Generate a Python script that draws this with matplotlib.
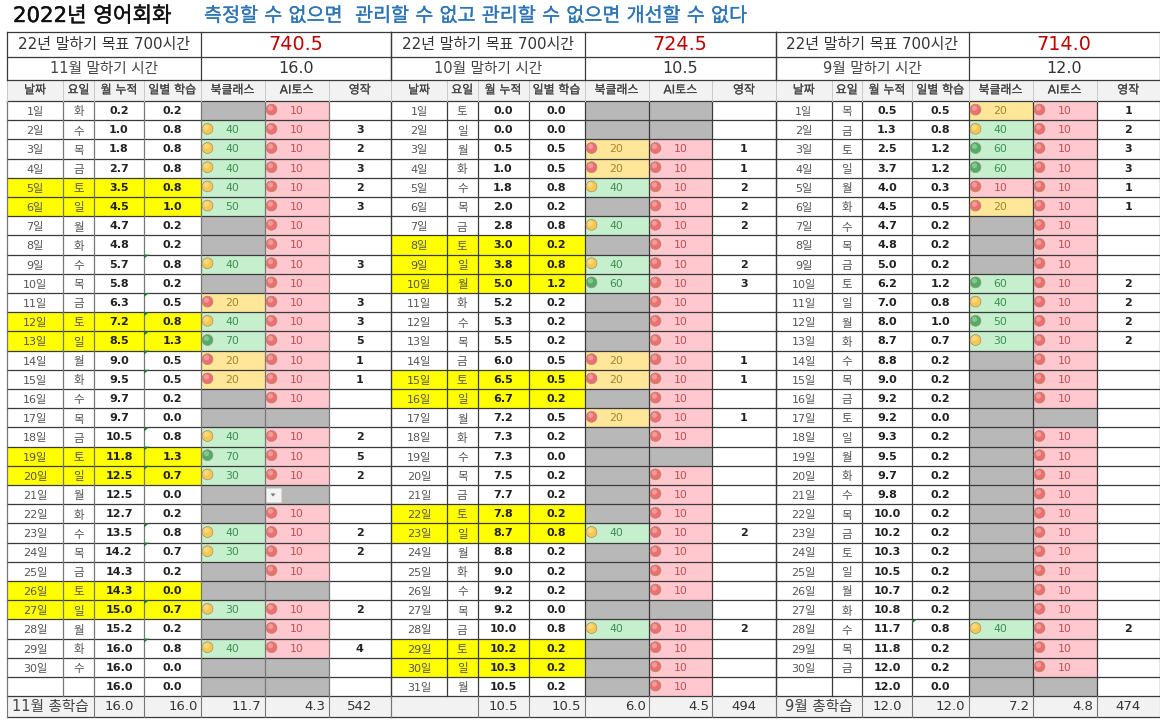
import matplotlib
matplotlib.use("Agg")
import matplotlib.pyplot as plt
import matplotlib.patheffects as pe
from matplotlib.patches import Rectangle, Circle, Polygon

# digits and spaces come from DejaVu, hangul falls through to Noto
plt.rcParams['font.family'] = ['DejaVu Sans', 'Noto Sans CJK KR']

N = None

title = "2022년 영어회화"
motto = "측정할 수 없으면  관리할 수 없고 관리할 수 없으면 개선할 수 없다"
headers = ["날짜", "요일", "월 누적", "일별 학습", "북클래스", "AI토스", "영작"]
goal_label = "22년 말하기 목표 700시간"

# 11월
nov_total = "740.5"
nov_hours = "16.0"
nov_label = "11월 말하기 시간"
nov_sum_label = "11월 총학습"
nov_days = [str(d) + "일" for d in range(1, 31)] + [""]
nov_week = list("화수목금토일월화수목금토일월화수목금토일월화수목금토일월화수") + [""]
nov_cum = [0.2, 1.0, 1.8, 2.7, 3.5, 4.5, 4.7, 4.8, 5.7, 5.8, 6.3, 7.2, 8.5, 9.0, 9.5, 9.7,
           9.7, 10.5, 11.8, 12.5, 12.5, 12.7, 13.5, 14.2, 14.3, 14.3, 15.0, 15.2, 16.0, 16.0, 16.0]
nov_daily = [0.2, 0.8, 0.8, 0.8, 0.8, 1.0, 0.2, 0.2, 0.8, 0.2, 0.5, 0.8, 1.3, 0.5, 0.5, 0.2,
             0.0, 0.8, 1.3, 0.7, 0.0, 0.2, 0.8, 0.7, 0.2, 0.0, 0.7, 0.2, 0.8, 0.0, 0.0]
nov_book = [N, 40, 40, 40, 40, 50, N, N, 40, N, 20, 40, 70, 20, 20, N,
            N, 40, 70, 30, N, N, 40, 30, N, N, 30, N, 40, N, N]
nov_ai = [10, 10, 10, 10, 10, 10, 10, 10, 10, 10, 10, 10, 10, 10, 10, 10,
          N, 10, 10, 10, N, 10, 10, 10, 10, N, 10, 10, 10, N, N]
nov_eng = [N, 3, 2, 3, 2, 3, N, N, 3, N, 3, 3, 5, 1, 1, N,
           N, 2, 5, 2, N, N, 2, 2, N, N, 2, N, 4, N, N]
nov_yellow = [5, 6, 12, 13, 19, 20, 26, 27]
nov_flags = [9, 11, 12, 13, 14, 15, 18, 19, 20, 23, 24, 27, 29]
nov_sums = ["16.0", "16.0", "11.7", "4.3", "542"]

# 10월
oct_total = "724.5"
oct_hours = "10.5"
oct_label = "10월 말하기 시간"
oct_sum_label = ""
oct_days = [str(d) + "일" for d in range(1, 32)]
oct_week = list("토일월화수목금토일월화수목금토일월화수목금토일월화수목금토일월")
oct_cum = [0.0, 0.0, 0.5, 1.0, 1.8, 2.0, 2.8, 3.0, 3.8, 5.0, 5.2, 5.3, 5.5, 6.0, 6.5, 6.7,
           7.2, 7.3, 7.3, 7.5, 7.7, 7.8, 8.7, 8.8, 9.0, 9.2, 9.2, 10.0, 10.2, 10.3, 10.5]
oct_daily = [0.0, 0.0, 0.5, 0.5, 0.8, 0.2, 0.8, 0.2, 0.8, 1.2, 0.2, 0.2, 0.2, 0.5, 0.5, 0.2,
             0.5, 0.2, 0.0, 0.2, 0.2, 0.2, 0.8, 0.2, 0.2, 0.2, 0.0, 0.8, 0.2, 0.2, 0.2]
oct_book = [N, N, 20, 20, 40, N, 40, N, 40, 60, N, N, N, 20, 20, N,
            20, N, N, N, N, N, 40, N, N, N, N, 40, N, N, N]
oct_ai = [N, N, 10, 10, 10, 10, 10, 10, 10, 10, 10, 10, 10, 10, 10, 10,
          10, 10, N, 10, 10, 10, 10, 10, 10, 10, N, 10, 10, 10, 10]
oct_eng = [N, N, 1, 1, 2, 2, 2, N, 2, 3, N, N, N, 1, 1, N,
           1, N, N, N, N, N, 2, N, N, N, N, 2, N, N, N]
oct_yellow = [8, 9, 10, 15, 16, 22, 23, 29, 30]
oct_flags = []
oct_sums = ["10.5", "10.5", "6.0", "4.5", "494"]

# 9월
sep_total = "714.0"
sep_hours = "12.0"
sep_label = "9월 말하기 시간"
sep_sum_label = "9월 총학습"
sep_days = [str(d) + "일" for d in range(1, 31)] + [""]
sep_week = list("목금토일월화수목금토일월화수목금토일월화수목금토일월화수목금") + [""]
sep_cum = [0.5, 1.3, 2.5, 3.7, 4.0, 4.5, 4.7, 4.8, 5.0, 6.2, 7.0, 8.0, 8.7, 8.8, 9.0, 9.2,
           9.2, 9.3, 9.5, 9.7, 9.8, 10.0, 10.2, 10.3, 10.5, 10.7, 10.8, 11.7, 11.8, 12.0, 12.0]
sep_daily = [0.5, 0.8, 1.2, 1.2, 0.3, 0.5, 0.2, 0.2, 0.2, 1.2, 0.8, 1.0, 0.7, 0.2, 0.2, 0.2,
             0.0, 0.2, 0.2, 0.2, 0.2, 0.2, 0.2, 0.2, 0.2, 0.2, 0.2, 0.8, 0.2, 0.2, 0.0]
sep_book = [20, 40, 60, 60, 10, 20, N, N, N, 60, 40, 50, 30, N, N, N,
            N, N, N, N, N, N, N, N, N, N, N, 40, N, N, N]
sep_ai = [10, 10, 10, 10, 10, 10, 10, 10, 10, 10, 10, 10, 10, 10, 10, 10,
          N, 10, 10, 10, 10, 10, 10, 10, 10, 10, 10, 10, 10, 10, N]
sep_eng = [1, 2, 3, 3, 1, 1, N, N, N, 2, 2, 2, 2, N, N, N,
           N, N, N, N, N, N, N, N, N, N, N, 2, N, N, N]
sep_yellow = []
sep_flags = [28]
sep_sums = ["12.0", "12.0", "7.2", "4.8", "474"]

# column edges of each month block, in pixels
nov_edges = [7, 63, 94, 144, 200.5, 264.5, 328.5, 391]
oct_edges = [391, 447, 477.5, 528.5, 584.5, 648.5, 712, 776]
sep_edges = [776, 831.5, 862, 912, 968.5, 1032.5, 1096.5, 1160]

row_top = 101
row_h = 19.2

GREY = "#b8b8b8"
YELLOW = "#ffff00"
HEAD = "#f2f2f2"


def thick(color, w=0.2):
    # no medium weight installed, so fatten the regular one a little
    return [pe.withStroke(linewidth=w, foreground=color)]


def book_style(v, green_from):
    # (cell fill, text colour, icon colour)
    if v <= 10:
        return "#ffc7ce", "#c0504d", "#ee6f6f"
    if v <= 20:
        return "#ffe699", "#a9832a", "#ee6f6f"
    if v >= green_from:
        return "#c6efce", "#3c8f50", "#4fae66"
    return "#c6efce", "#3c8f50", "#f8c94f"


def draw_icon(ax, x, y, color):
    ax.add_patch(Circle((x, y), 5.4, fc=color, ec="#a88a70", lw=0.5, zorder=4))
    ax.add_patch(Circle((x - 1.0, y - 1.5), 2.6, fc="white", ec="none", alpha=0.3, zorder=5))


def draw_block(ax, e, total, hours, label, sum_label, days, week, cum, daily, book, ai, eng,
               yellow, flags, sums, green_from, line):
    n = len(days)
    bottom = row_top + row_h * n
    foot = bottom + 20.5
    mid = lambda i: (e[i] + e[i + 1]) / 2

    # top two rows
    ax.text((e[0] + e[4]) / 2, 44.5, goal_label, fontsize=10.8, ha="center", va="center", color="#333333")
    ax.text((e[4] + e[7]) / 2, 44.5, total, fontsize=13.8, ha="center", va="center", color="#c00000")
    ax.text((e[0] + e[4]) / 2, 68.5, label, fontsize=10.5, ha="center", va="center", color="#444444")
    ax.text((e[4] + e[7]) / 2, 68.5, hours, fontsize=11.5, ha="center", va="center", color="#333333")

    # header row
    ax.add_patch(Rectangle((e[0], 80), e[7] - e[0], 21, fc=HEAD, ec="none"))
    for i, h in enumerate(headers):
        ax.text(mid(i), 90, h, fontsize=8.6, ha="center", va="center", color="#444444",
                path_effects=thick("#444444", 0.12))

    for r in range(n):
        y = row_top + r * row_h
        yc = y + row_h / 2 + 0.3
        is_yellow = (r + 1) in yellow
        if is_yellow:
            ax.add_patch(Rectangle((e[0], y), e[4] - e[0], row_h, fc=YELLOW, ec="none"))

        ax.text(mid(0), yc + 1, days[r], fontsize=8, ha="center", va="center", color="#555555")
        ax.text(mid(1), yc + 1, week[r], fontsize=8.3, ha="center", va="center", color="#555555")
        ax.text(mid(2), yc, "%.1f" % cum[r], fontsize=8, ha="center", va="center", color="#222222", fontweight="bold")
        ax.text(mid(3), yc, "%.1f" % daily[r], fontsize=8, ha="center", va="center", color="#222222", fontweight="bold")

        # book class
        if book[r] is None:
            ax.add_patch(Rectangle((e[4], y), e[5] - e[4], row_h, fc=GREY, ec="none"))
        else:
            fill, tc, ic = book_style(book[r], green_from)
            ax.add_patch(Rectangle((e[4], y), e[5] - e[4], row_h, fc=fill, ec="none"))
            draw_icon(ax, e[4] + 7, yc - 1.3, ic)
            ax.text(mid(4), yc, str(book[r]), fontsize=7.8, ha="center", va="center", color=tc)

        # AI toss
        if ai[r] is None:
            ax.add_patch(Rectangle((e[5], y), e[6] - e[5], row_h, fc=GREY, ec="none"))
        else:
            fill, tc, ic = book_style(ai[r], green_from)
            ax.add_patch(Rectangle((e[5], y), e[6] - e[5], row_h, fc=fill, ec="none"))
            draw_icon(ax, e[5] + 7, yc - 1.3, ic)
            ax.text(mid(5), yc, str(ai[r]), fontsize=7.8, ha="center", va="center", color=tc)

        if eng[r] is not None:
            ax.text(mid(6), yc, str(eng[r]), fontsize=8, ha="center", va="center", color="#222222", fontweight="bold")

        if (r + 1) in flags:
            ax.add_patch(Polygon([(e[3], y), (e[3] + 5, y), (e[3], y + 4)], fc="#1e7a34", ec="none", zorder=5))

    # total row
    ax.add_patch(Rectangle((e[0], bottom), e[7] - e[0], foot - bottom, fc=HEAD, ec="none"))
    yc = (bottom + foot) / 2
    ax.text((e[0] + e[2]) / 2, yc, sum_label, fontsize=10.5, ha="center", va="center", color="#444444")
    ax.text(mid(2), yc, sums[0], fontsize=9.5, ha="center", va="center", color="#333333")
    for i in [3, 4, 5]:
        ax.text(e[i + 1] - 3, yc, sums[i - 2], fontsize=9.5, ha="right", va="center", color="#333333")
    ax.text(mid(6), yc, sums[4], fontsize=9.5, ha="center", va="center", color="#333333")

    # grid
    for r in range(n + 2):
        y = row_top + r * row_h if r <= n else foot
        ax.plot([e[0], e[7]], [y, y], color="#3a3a3a", lw=0.9, zorder=3)
    for i in range(8):
        ax.plot([e[i], e[i]], [row_top, bottom], color=line, lw=0.9, zorder=3)
    for i in range(8):
        ax.plot([e[i], e[i]], [80, 101], color="#c8c8c8", lw=0.7, zorder=3)
    for i in [0, 2, 3, 4, 5, 6, 7]:
        ax.plot([e[i], e[i]], [bottom, foot], color="#777777", lw=0.8, zorder=3)
    for x in [e[0], e[4], e[7]]:
        ax.plot([x, x], [32, 80], color="#3a3a3a", lw=0.9, zorder=3)
    for y in [32, 57, 80]:
        ax.plot([e[0], e[7]], [y, y], color="#3a3a3a", lw=0.9, zorder=3)


fig = plt.figure(figsize=(11.6, 7.22), dpi=100)
ax = fig.add_axes([0, 0, 1, 1])
ax.set_xlim(0, 1160)
ax.set_ylim(722, 0)
ax.axis("off")

ax.text(13, 16, title, fontsize=15.3, ha="left", va="center", color="#111111",
        path_effects=thick("#111111", 0.3))
ax.text(204, 16, motto, fontsize=14.1, ha="left", va="center", color="#2e75b6",
        path_effects=thick("#2e75b6"))

draw_block(ax, nov_edges, nov_total, nov_hours, nov_label, nov_sum_label, nov_days, nov_week, nov_cum,
           nov_daily, nov_book, nov_ai, nov_eng, nov_yellow, nov_flags, nov_sums, 60, "#777777")
draw_block(ax, oct_edges, oct_total, oct_hours, oct_label, oct_sum_label, oct_days, oct_week, oct_cum,
           oct_daily, oct_book, oct_ai, oct_eng, oct_yellow, oct_flags, oct_sums, 60, "#3a3a3a")
draw_block(ax, sep_edges, sep_total, sep_hours, sep_label, sep_sum_label, sep_days, sep_week, sep_cum,
           sep_daily, sep_book, sep_ai, sep_eng, sep_yellow, sep_flags, sep_sums, 50, "#3a3a3a")

# filter button left in the sheet on 21일
ax.add_patch(Rectangle((266, 487.5), 14.5, 14.5, fc="#f4f4f4", ec="#d8d8d8", lw=0.5, zorder=6))
ax.add_patch(Polygon([(270.5, 493.5), (275.5, 493.5), (273, 496.5)], fc="#777777", ec="none", zorder=7))

fig.savefig("out.png", dpi=100)
